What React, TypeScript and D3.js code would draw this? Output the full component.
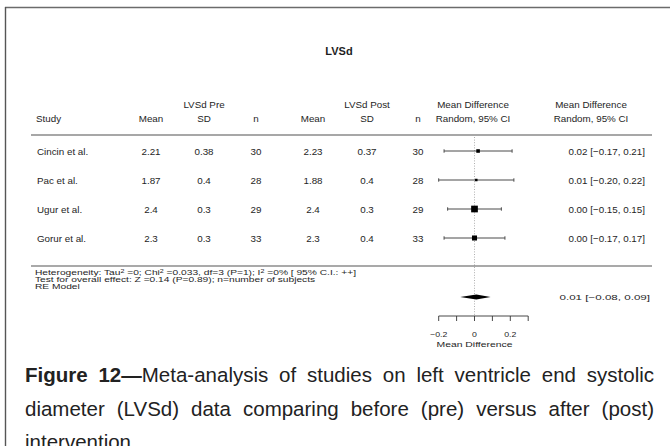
import React, { useLayoutEffect, useRef } from "react";
import * as d3 from "d3";

// Study-level inputs
const studies = ["Cincin et al.", "Pac et al.", "Ugur et al.", "Gorur et al."];
const preMean = [2.21, 1.87, 2.4, 2.3];
const preSD = [0.38, 0.4, 0.3, 0.3];
const preN = [30, 28, 29, 33];
const postMean = [2.23, 1.88, 2.4, 2.3];
const postSD = [0.37, 0.4, 0.3, 0.4];
const postN = [30, 28, 29, 33];

// Mean differences with 95% CI (random effects)
const md = [0.02, 0.01, 0.0, 0.0];
const ciLow = [-0.17, -0.2, -0.15, -0.17];
const ciHigh = [0.21, 0.22, 0.15, 0.17];

// Pooled RE model estimate
const reEst = [0.01];
const reLow = [-0.08];
const reHigh = [0.09];

const axisTicks = [-0.2, -0.1, 0, 0.1, 0.2, 0.3];
const axisTickLabels = [-0.2, 0, 0.2];

const captionLines = [
  { bold: "Figure 12—", text: "Meta-analysis of studies on left ventricle end systolic", justify: true },
  { bold: "", text: "diameter (LVSd) data comparing before (pre) versus after (post)", justify: true },
  { bold: "", text: "intervention.", justify: false },
];

const FONT = "'Liberation Sans', Arial, Helvetica, sans-serif";
const INK = "#1e1e1e";

const fmt = (v: number) => v.toFixed(2).replace("-", "\u2212");
const ciText = (m: number, lo: number, hi: number) => `${fmt(m)} [${fmt(lo)}, ${fmt(hi)}]`;

type TProps = {
  x: number;
  y: number;
  size: number;
  sx?: number;
  anchor?: "start" | "middle" | "end";
  weight?: string | number;
  children: React.ReactNode;
};
const T = ({ x, y, size, sx = 1, anchor = "start", weight = "normal", children }: TProps) => (
  <text
    transform={`translate(${x},${y}) scale(${sx},1)`}
    fontSize={size}
    textAnchor={anchor}
    fontWeight={weight}
    fill={INK}
    fontFamily={FONT}
  >
    {children}
  </text>
);

export default function App() {
  const capRef = useRef<SVGGElement>(null);

  const x = d3.scaleLinear().domain([-0.2, 0.3]).range([438.7, 528.2]);
  const y = d3.scaleLinear().domain([0, studies.length - 1]).range([151, 238]);

  // inverse-variance weights drive the square sizes
  const weights = studies.map((_, i) => 1 / (preSD[i] ** 2 / preN[i] + postSD[i] ** 2 / postN[i]));
  const size = d3.scaleLinear().domain(d3.extent(weights) as [number, number]).range([2.5, 6.7]);

  const colPre = [151, 204, 256];
  const colPost = [313, 367, 418];
  const colCI = 473;
  const colRight = 591;
  const rowSize = 9.8;

  const capLeft = 25;
  const capRight = 654;

  useLayoutEffect(() => {
    const g = capRef.current;
    if (!g) return;
    g.querySelectorAll<SVGTextElement>("text[data-justify='1']").forEach((el) => {
      el.setAttribute("word-spacing", "0");
      const len = el.getComputedTextLength();
      const spaces = (el.textContent || "").split(" ").length - 1;
      if (spaces > 0) el.setAttribute("word-spacing", String((capRight - capLeft - len) / spaces));
    });
  }, []);

  const summaryY = 297;
  const axisY = 316;
  const smallSize = 6.9;
  const smallSx = 1.48;

  return (
    <svg
      width={670}
      height={446}
      style={{ position: "absolute", left: 0, top: 0, display: "block", background: "#fff" }}
    >
      {/* frame */}
      <line x1={5} x2={670} y1={7.5} y2={7.5} stroke="#6b6b6b" strokeWidth={1.6} />
      <line x1={5.5} x2={5.5} y1={7} y2={446} stroke="#555" strokeWidth={1.4} />

      {/* title */}
      <T x={339} y={55} size={11} weight="bold" anchor="middle">LVSd</T>

      {/* column headers */}
      <g>
        <T x={colPre[1]} y={108} size={rowSize} anchor="middle">LVSd Pre</T>
        <T x={colPost[1]} y={108} size={rowSize} anchor="middle">LVSd Post</T>
        <T x={colCI} y={108} size={rowSize} anchor="middle">Mean Difference</T>
        <T x={colRight} y={108} size={rowSize} anchor="middle">Mean Difference</T>
        <T x={36} y={122} size={rowSize}>Study</T>
        {["Mean", "SD", "n"].map((h, i) => (
          <T key={"a" + h} x={colPre[i]} y={122} size={rowSize} anchor="middle">{h}</T>
        ))}
        {["Mean", "SD", "n"].map((h, i) => (
          <T key={"b" + h} x={colPost[i]} y={122} size={rowSize} anchor="middle">{h}</T>
        ))}
        <T x={colCI} y={122} size={rowSize} anchor="middle">Random, 95% CI</T>
        <T x={colRight} y={122} size={rowSize} anchor="middle">Random, 95% CI</T>
      </g>

      <line x1={31} x2={652} y1={135} y2={135} stroke="#8a8a8a" strokeWidth={1.4} />

      {/* reference line at zero */}
      <line
        x1={x(0)}
        x2={x(0)}
        y1={137}
        y2={axisY}
        stroke="#9a9a9a"
        strokeWidth={0.8}
        strokeDasharray="1,1.6"
      />

      {/* study rows */}
      {studies.map((s, i) => {
        const cy = y(i);
        const by = cy + 3.5;
        const sz = size(weights[i]);
        return (
          <g key={s}>
            <T x={37} y={by} size={rowSize}>{s}</T>
            <T x={colPre[0]} y={by} size={rowSize} anchor="middle">{String(preMean[i])}</T>
            <T x={colPre[1]} y={by} size={rowSize} anchor="middle">{String(preSD[i])}</T>
            <T x={colPre[2]} y={by} size={rowSize} anchor="middle">{String(preN[i])}</T>
            <T x={colPost[0]} y={by} size={rowSize} anchor="middle">{String(postMean[i])}</T>
            <T x={colPost[1]} y={by} size={rowSize} anchor="middle">{String(postSD[i])}</T>
            <T x={colPost[2]} y={by} size={rowSize} anchor="middle">{String(postN[i])}</T>
            <line x1={x(ciLow[i])} x2={x(ciHigh[i])} y1={cy} y2={cy} stroke="#4a4a4a" strokeWidth={1} />
            <line x1={x(ciLow[i])} x2={x(ciLow[i])} y1={cy - 1.7} y2={cy + 1.7} stroke="#4a4a4a" strokeWidth={1} />
            <line x1={x(ciHigh[i])} x2={x(ciHigh[i])} y1={cy - 1.7} y2={cy + 1.7} stroke="#4a4a4a" strokeWidth={1} />
            <rect x={x(md[i]) - sz / 2} y={cy - sz / 2} width={sz} height={sz} fill="#000" />
            <T x={645} y={by} size={rowSize} anchor="end">{ciText(md[i], ciLow[i], ciHigh[i])}</T>
          </g>
        );
      })}

      <line x1={31} x2={652} y1={266} y2={266} stroke="#555" strokeWidth={1.2} />

      {/* heterogeneity & overall effect */}
      <T x={35} y={275} size={smallSize} sx={smallSx}>
        Heterogeneity: Tau
        <tspan fontSize={4.8} dy={-2.5}>2</tspan>
        <tspan dy={2.5}> =0; Chi</tspan>
        <tspan fontSize={4.8} dy={-2.5}>2</tspan>
        <tspan dy={2.5}> =0.033, df=3 (P=1); I</tspan>
        <tspan fontSize={4.8} dy={-2.5}>2</tspan>
        <tspan dy={2.5}> =0% [ 95% C.I.: ++]</tspan>
      </T>
      <T x={35} y={281.8} size={smallSize} sx={smallSx}>
        Test for overall effect: Z =0.14 (P=0.89); n=number of subjects
      </T>
      <T x={35} y={288.6} size={smallSize} sx={smallSx}>RE Model</T>

      {/* pooled estimate */}
      <path
        d={`M${x(reLow[0])},${summaryY} L${x(reEst[0])},${summaryY - 2.6} L${x(reHigh[0])},${summaryY} L${x(reEst[0])},${summaryY + 2.6} Z`}
        fill="#000"
      />
      <T x={650} y={summaryY + 3} size={8} sx={1.45} anchor="end">
        {ciText(reEst[0], reLow[0], reHigh[0])}
      </T>

      {/* x axis */}
      <g stroke="#333" strokeWidth={0.9}>
        <line x1={x(axisTicks[0])} x2={x(axisTicks[axisTicks.length - 1])} y1={axisY} y2={axisY} />
        {axisTicks.map((t) => (
          <line key={t} x1={x(t)} x2={x(t)} y1={axisY} y2={axisY + 5} />
        ))}
      </g>
      {axisTickLabels.map((t) => (
        <T key={t} x={x(t)} y={336.5} size={7.3} sx={1.2} anchor="middle">
          {t === 0 ? "0" : String(t).replace("-", "\u2212")}
        </T>
      ))}
      <T x={x(0)} y={346.5} size={8} sx={1.3} anchor="middle">Mean Difference</T>

      {/* caption */}
      <g ref={capRef}>
        {captionLines.map((l, i) => (
          <text
            key={i}
            x={capLeft}
            y={382 + i * 33.5}
            fontSize={20.5}
            fontFamily={FONT}
            fill="#222"
            data-justify={l.justify ? "1" : "0"}
          >
            {l.bold && <tspan fontWeight="bold">{l.bold}</tspan>}
            {l.text}
          </text>
        ))}
      </g>
    </svg>
  );
}
